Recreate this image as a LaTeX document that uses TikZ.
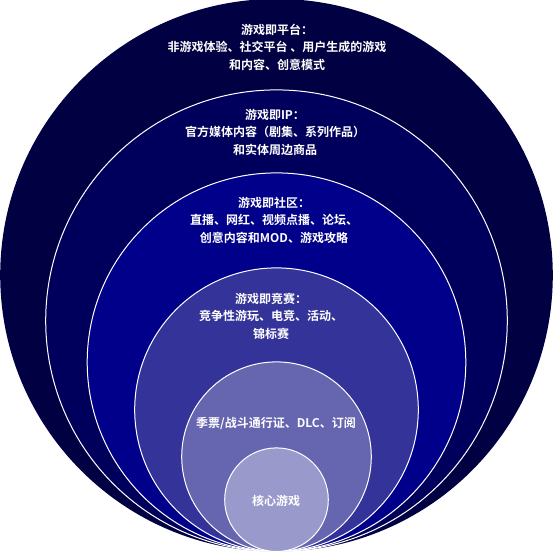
\documentclass[tikz,border=0pt]{standalone}
\usepackage{fontspec}
\setmainfont{Noto Sans CJK SC}[BoldFont={Noto Sans CJK SC Bold}]
\definecolor{c1}{HTML}{000042}
\definecolor{c2}{HTML}{00005C}
\definecolor{c3}{HTML}{00008A}
\definecolor{c4}{HTML}{333399}
\definecolor{c5}{HTML}{6666B0}
\definecolor{c6}{HTML}{9999CC}
\tikzset{
  ring/.style={draw=white, line width=1pt},
  lbl/.style={text=white, font=\bfseries\fontsize{12}{17.5}\selectfont, align=center, inner sep=0pt}
}
\begin{document}
\begin{tikzpicture}[x=1pt,y=1pt]
\useasboundingbox (0,0) rectangle (553,555);
% bottom tangent at image y=551.5 -> tikz y=3.5
\fill[c1] (276.5,279.8) circle[radius=276.3];
\path[ring, fill=c2] (276.5,234.3) circle[radius=230.8];
\path[ring, fill=c3] (276.5,192.8) circle[radius=189.3];
\path[ring, fill=c4] (276.5,145.3) circle[radius=141.8];
\path[ring, fill=c5] (276.5,98.3) circle[radius=94.8];
\path[ring, fill=c6] (276.5,55.3) circle[radius=51.8];
\node[lbl] (platform) at (277,508) {游戏即平台：\\非游戏体验、社交平台 、用户生成的游戏\\和内容、创意模式};
\node[lbl] (ip) at (275,423) {游戏即IP：\\官方媒体内容（剧集、系列作品）\\和实体周边商品};
\node[lbl] (community) at (274,335) {游戏即社区：\\直播、网红、视频点播、论坛、\\创意内容和MOD、游戏攻略};
\node[lbl] (esports) at (271,239) {游戏即竞赛：\\竞争性游玩、电竞、活动、\\锦标赛};
\node[lbl] (season) at (276,132) {季票/战斗通行证、DLC、订阅};
\node[lbl] (core) at (276,54) {核心游戏};
\end{tikzpicture}
\end{document}
